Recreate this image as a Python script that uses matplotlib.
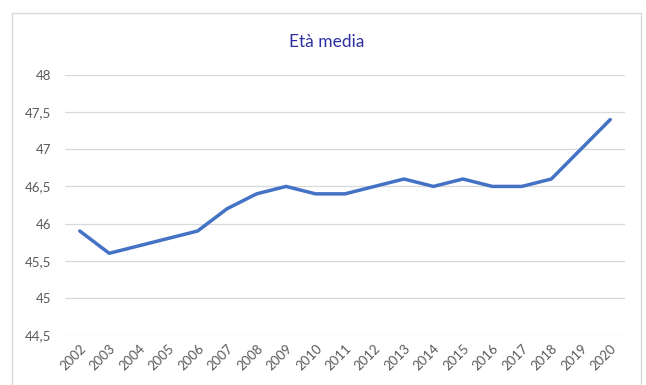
import matplotlib
matplotlib.use("Agg")
import matplotlib.pyplot as plt
from matplotlib.patches import Rectangle

years = ["2002", "2003", "2004", "2005", "2006", "2007", "2008", "2009", "2010",
         "2011", "2012", "2013", "2014", "2015", "2016", "2017", "2018", "2019", "2020"]
eta_media = [45.9, 45.6, 45.7, 45.8, 45.9, 46.2, 46.4, 46.5, 46.4,
             46.4, 46.5, 46.6, 46.5, 46.6, 46.5, 46.5, 46.6, 47.0, 47.4]
y_ticks = [44.5, 45, 45.5, 46, 46.5, 47, 47.5, 48]
y_labels = ["44,5", "45", "45,5", "46", "46,5", "47", "47,5", "48"]

plt.rcParams['font.family'] = ['Lato', 'DejaVu Sans']

W, H = 646, 385
fig = plt.figure(figsize=(W / 100, H / 100), dpi=100)
fig.patch.set_facecolor("white")

# chart frame
fig.patches.append(Rectangle((12 / W, -0.05), (641 - 12) / W, 1.05 - 13 / H,
                             transform=fig.transFigure, fill=False,
                             edgecolor="#D9D9D9", linewidth=1.0))

ax = fig.add_axes([65 / W, 50 / H, (625 - 65) / W, (335 - 75) / H])
x = list(range(len(years)))
ax.plot(x, eta_media, color="#4472C4", linewidth=2.5, solid_joinstyle="round",
        solid_capstyle="round", zorder=3)

ax.set_xlim(-0.5, len(years) - 0.5)
ax.set_ylim(44.5, 48)
ax.set_yticks(y_ticks)
ax.set_yticklabels(y_labels)
ax.set_xticks(x)
ax.set_xticklabels(years, rotation=45, ha="right", rotation_mode="anchor")

ax.grid(axis="y", color="#D9D9D9", linewidth=0.9)
ax.set_axisbelow(True)
for s in ax.spines.values():
    s.set_visible(False)
ax.tick_params(axis="both", length=0, colors="#595959", labelsize=9.5)
ax.tick_params(axis="y", pad=10)
ax.tick_params(axis="x", pad=5)

fig.text(327 / W, 1 - 42 / H, "Età media", ha="center", va="center",
         fontsize=12.5, color="#2B2FA0")

fig.savefig("out.png", dpi=100)
